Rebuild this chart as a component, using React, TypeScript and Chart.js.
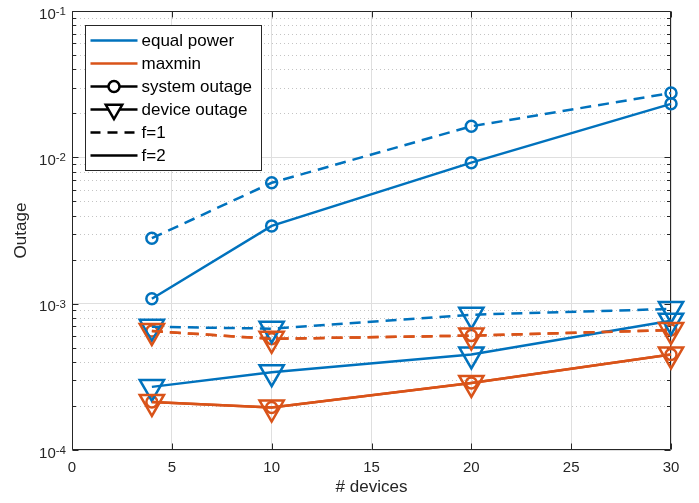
import React, { useEffect, useRef } from "react";
import { Chart, registerables } from "chart.js";

Chart.register(...registerables);

// ---- data ----
const xDevices = [4, 10, 20, 30];
const xTickValues = [0, 5, 10, 15, 20, 25, 30];
const yDecadeValues = [1e-4, 1e-3, 1e-2, 1e-1];
const yDecadeExponents = ["-4", "-3", "-2", "-1"];

const eqSysF1 = [2.8e-3, 6.7e-3, 1.63e-2, 2.75e-2];
const eqSysF2 = [1.08e-3, 3.4e-3, 9.2e-3, 2.32e-2];
const mmSysF1 = [6.5e-4, 5.75e-4, 6.05e-4, 6.6e-4];
const mmSysF2 = [2.13e-4, 1.95e-4, 2.87e-4, 4.5e-4];
const eqDevF1 = [6.95e-4, 6.75e-4, 8.4e-4, 9.2e-4];
const mmDevF1 = [6.5e-4, 5.75e-4, 6.05e-4, 6.6e-4];
const eqDevF2 = [2.7e-4, 3.4e-4, 4.5e-4, 7.65e-4];
const mmDevF2 = [2.13e-4, 1.95e-4, 2.87e-4, 4.5e-4];

const legendLabels = ["equal power", "maxmin", "system outage", "device outage", "f=1", "f=2"];
const xTitle = "# devices";
const yTitle = "Outage";

const BLUE = "#0072BD";
const ORANGE = "#D95319";
const TEXT = "#262626";
const FONT = "'Liberation Sans', Arial, Helvetica, sans-serif";
const DASH = [11, 7];

const isDecade = (v: number) => {
  const l = Math.log10(v);
  return Math.abs(l - Math.round(l)) < 1e-6;
};

function mkSeries(values: number[], color: string, dashed: boolean, marker: "circle" | "tri") {
  return {
    data: xDevices.map((x, i) => ({ x, y: values[i] })),
    borderColor: color,
    backgroundColor: color,
    borderWidth: 2.5,
    borderDash: dashed ? DASH : [],
    pointStyle: marker === "circle" ? "circle" : "triangle",
    pointRotation: marker === "tri" ? 180 : 0,
    pointRadius: marker === "circle" ? 5.5 : 14,
    pointBorderWidth: 2.5,
    pointBorderColor: color,
    pointBackgroundColor: "rgba(0,0,0,0)",
    pointHoverRadius: marker === "circle" ? 5.5 : 14,
    fill: false,
    tension: 0,
    clip: false as any,
  };
}

const axesPlugin = {
  id: "matlabAxes",
  beforeDatasetsDraw(chart: any) {
    const { ctx, chartArea, scales } = chart;
    const { left, right, top, bottom } = chartArea;
    const y = scales.y;
    const x = scales.x;
    ctx.save();
    ctx.lineWidth = 1;
    ctx.strokeStyle = "#c4c4c4";
    ctx.setLineDash([1, 3]);
    for (let d = 0; d < yDecadeValues.length - 1; d++) {
      for (let k = 2; k <= 9; k++) {
        const py = Math.round(y.getPixelForValue(k * yDecadeValues[d])) + 0.5;
        ctx.beginPath();
        ctx.moveTo(left, py);
        ctx.lineTo(right, py);
        ctx.stroke();
      }
    }
    ctx.setLineDash([]);
    ctx.strokeStyle = TEXT;
    ctx.lineWidth = 1;
    const L = Math.round(left) + 0.5, R = Math.round(right) - 0.5;
    const T = Math.round(top) + 0.5, B = Math.round(bottom) - 0.5;
    ctx.beginPath();
    ctx.rect(L, T, R - L, B - T);
    ctx.stroke();
    ctx.beginPath();
    for (const v of xTickValues) {
      const px = Math.round(x.getPixelForValue(v)) + 0.5;
      ctx.moveTo(px, B);
      ctx.lineTo(px, B - 6);
      ctx.moveTo(px, T);
      ctx.lineTo(px, T + 6);
    }
    for (let d = 0; d < yDecadeValues.length; d++) {
      const py = Math.round(y.getPixelForValue(yDecadeValues[d])) + 0.5;
      ctx.moveTo(L, py);
      ctx.lineTo(L + 6, py);
      ctx.moveTo(R, py);
      ctx.lineTo(R - 6, py);
      if (d < yDecadeValues.length - 1) {
        for (let k = 2; k <= 9; k++) {
          const pm = Math.round(y.getPixelForValue(k * yDecadeValues[d])) + 0.5;
          ctx.moveTo(L, pm);
          ctx.lineTo(L + 3.5, pm);
          ctx.moveTo(R, pm);
          ctx.lineTo(R - 3.5, pm);
        }
      }
    }
    ctx.stroke();
    // y tick labels: "10" with a superscript exponent
    ctx.fillStyle = TEXT;
    ctx.textBaseline = "alphabetic";
    ctx.textAlign = "left";
    for (let d = 0; d < yDecadeValues.length; d++) {
      const py = y.getPixelForValue(yDecadeValues[d]);
      const rightEdge = left - 6;
      ctx.font = `11.5px ${FONT}`;
      const ew = ctx.measureText(yDecadeExponents[d]).width;
      ctx.fillText(yDecadeExponents[d], rightEdge - ew, py + 4);
      ctx.font = `15px ${FONT}`;
      const bw = ctx.measureText("10").width;
      ctx.fillText("10", rightEdge - ew - bw, py + 7.5);
    }
    ctx.restore();
  },
};

const legendPlugin = {
  id: "matlabLegend",
  afterDraw(chart: any) {
    const { ctx, chartArea } = chart;
    const bx = Math.round(chartArea.left) + 13.5;
    const by = Math.round(chartArea.top) + 14.5;
    const bw = 176;
    const bh = 145;
    ctx.save();
    ctx.fillStyle = "#ffffff";
    ctx.fillRect(bx, by, bw, bh);
    ctx.strokeStyle = TEXT;
    ctx.lineWidth = 1;
    ctx.strokeRect(bx, by, bw, bh);
    const styles = [
      { color: BLUE, dash: [] as number[], marker: "" },
      { color: ORANGE, dash: [] as number[], marker: "" },
      { color: "#000", dash: [] as number[], marker: "circle" },
      { color: "#000", dash: [] as number[], marker: "tri" },
      { color: "#000", dash: [10, 7], marker: "" },
      { color: "#000", dash: [] as number[], marker: "" },
    ];
    const x0 = bx + 5, x1 = bx + 52, xm = (x0 + x1) / 2;
    ctx.font = `17px ${FONT}`;
    ctx.textBaseline = "middle";
    ctx.textAlign = "left";
    for (let i = 0; i < legendLabels.length; i++) {
      const cy = by + 15 + i * 23;
      const s = styles[i];
      ctx.strokeStyle = s.color;
      ctx.lineWidth = 2.5;
      ctx.setLineDash(s.dash);
      ctx.beginPath();
      ctx.moveTo(x0, cy);
      ctx.lineTo(x1, cy);
      ctx.stroke();
      ctx.setLineDash([]);
      if (s.marker === "circle") {
        ctx.fillStyle = "#fff";
        ctx.beginPath();
        ctx.arc(xm, cy, 5.5, 0, Math.PI * 2);
        ctx.fill();
        ctx.stroke();
      } else if (s.marker === "tri") {
        const r = 9.5;
        ctx.fillStyle = "#fff";
        ctx.beginPath();
        ctx.moveTo(xm, cy + r);
        ctx.lineTo(xm - r * Math.sin(Math.PI / 3), cy - r / 2);
        ctx.lineTo(xm + r * Math.sin(Math.PI / 3), cy - r / 2);
        ctx.closePath();
        ctx.fill();
        ctx.stroke();
      }
      ctx.fillStyle = "#000";
      ctx.fillText(legendLabels[i], x1 + 4, cy + 1);
    }
    ctx.restore();
  },
};

export default function App() {
  const ref = useRef<HTMLCanvasElement | null>(null);
  useEffect(() => {
    if (!ref.current) return;
    Chart.defaults.font.family = FONT;
    const drawOrder = [
      mkSeries(mmSysF1, ORANGE, true, "circle"),
      mkSeries(mmSysF2, ORANGE, false, "circle"),
      mkSeries(eqSysF1, BLUE, true, "circle"),
      mkSeries(eqSysF2, BLUE, false, "circle"),
      mkSeries(eqDevF1, BLUE, true, "tri"),
      mkSeries(eqDevF2, BLUE, false, "tri"),
      mkSeries(mmDevF1, ORANGE, true, "tri"),
      mkSeries(mmDevF2, ORANGE, false, "tri"),
    ];
    const N = drawOrder.length;
    const datasets = drawOrder.map((d, i) => ({ ...d, order: N - i }));
    const chart = new Chart(ref.current, {
      type: "line",
      data: { datasets: datasets as any },
      plugins: [axesPlugin, legendPlugin],
      options: {
        responsive: false,
        animation: false,
        devicePixelRatio: 1,
        layout: { autoPadding: false, padding: { left: 0, top: 11, right: 28, bottom: 0 } },
        plugins: { legend: { display: false }, tooltip: { enabled: false } },
        scales: {
          x: {
            type: "linear",
            min: 0,
            max: 30,
            afterBuildTicks: (s: any) => {
              s.ticks = xTickValues.map((v) => ({ value: v }));
            },
            afterFit: (s: any) => {
              s.height = 53;
            },
            grid: { color: "#dfdfdf", drawTicks: false, lineWidth: 1 },
            border: { display: false },
            ticks: { color: TEXT, font: { size: 15 }, padding: 9, maxRotation: 0, autoSkip: false },
            title: { display: true, text: xTitle, color: TEXT, font: { size: 17 }, padding: { top: 0, bottom: 5 } },
          },
          y: {
            type: "logarithmic",
            min: 1e-4,
            max: 1e-1,
            afterFit: (s: any) => {
              s.width = 72;
            },
            grid: {
              color: (c: any) => (c.tick && isDecade(c.tick.value) ? "#dfdfdf" : "rgba(0,0,0,0)"),
              drawTicks: false,
              lineWidth: 1,
            },
            border: { display: false },
            ticks: { display: false, autoSkip: false },
            title: { display: true, text: yTitle, color: TEXT, font: { size: 17 }, padding: { top: 11.5, bottom: 0 } },
          },
        },
      } as any,
    });
    return () => chart.destroy();
  }, []);
  return (
    <div style={{ position: "absolute", left: 0, top: 0, width: 699, height: 503, background: "#fff" }}>
      <canvas ref={ref} width={699} height={503} />
    </div>
  );
}
